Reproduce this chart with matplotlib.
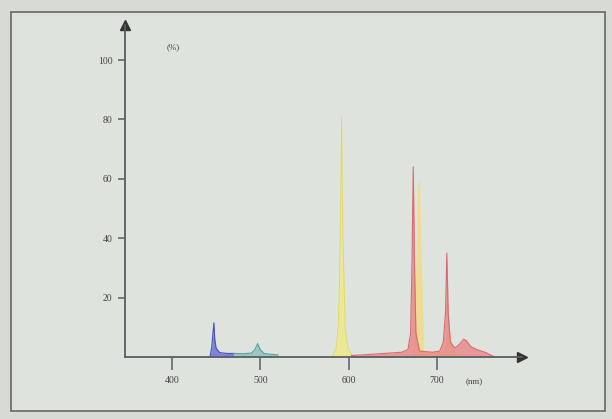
import matplotlib.pyplot as plt
from matplotlib.patches import Rectangle

# Spectrum bands (wavelength nm, relative intensity %)
blue_wl = [443, 445, 446.5, 447.5, 448.5, 450, 454, 462, 470]
blue_val = [0, 3, 8, 11.5, 6, 3, 1.5, 1.2, 1.2]

teal_wl = [470, 480, 490, 494, 497, 500, 504, 512, 520]
teal_val = [1.2, 1.1, 1.3, 2.5, 4.5, 2.5, 1.2, 0.9, 0.7]

yellow_wl = [582, 586, 588.5, 590.5, 592, 593.5, 596, 599, 604]
yellow_val = [0.5, 3, 12, 40, 81, 40, 10, 3, 0.5]

orange_wl = [673, 676, 678, 680, 682, 685, 708, 712, 715, 718, 722]
orange_val = [2, 30, 58, 60, 35, 2, 2, 10, 8, 3, 1]

red_wl = [603, 620, 640, 660, 667, 670, 671.5, 673, 674.5, 676, 680,
          695, 703, 707, 709.5, 711, 712.5, 715, 720, 726, 730, 733,
          738, 745, 755, 765]
red_val = [0.5, 0.8, 1.2, 1.6, 2.5, 8, 30, 64, 30, 8, 2,
           1.6, 2, 5, 15, 35, 15, 5, 3, 4.5, 6, 5.5,
           3.5, 2.5, 1.5, 0]

xticks = [400, 500, 600, 700]
yticks = [20, 40, 60, 80, 100]

plt.rcParams['font.family'] = ['Liberation Serif', 'DejaVu Serif']

fig = plt.figure(figsize=(6.12, 4.19), dpi=100, facecolor='#d8dbd5')
W, H = 612, 419

# photo frame
frame = Rectangle((11 / W, 1 - 411 / H), 594 / W, 399 / H,
                  transform=fig.transFigure, facecolor='#dfe3dd',
                  edgecolor='#6e716f', linewidth=1.3, zorder=-10)
fig.patches.append(frame)

ax = fig.add_axes([125 / W, 1 - 357 / H, 397 / W, 332 / H])
ax.set_facecolor('none')
ax.set_xlim(347, 796)
ax.set_ylim(0, 111.8)

ax.fill_between(blue_wl, blue_val, color='#6b74d6', alpha=0.85, lw=0)
ax.plot(blue_wl, blue_val, color='#4a52b8', lw=0.8)
ax.fill_between(teal_wl, teal_val, color='#8cc2c0', alpha=0.85, lw=0)
ax.plot(teal_wl, teal_val, color='#5aa09a', lw=0.8)
ax.fill_between(yellow_wl, yellow_val, color='#ecea8a', alpha=0.9, lw=0)
ax.plot(yellow_wl, yellow_val, color='#dcd870', lw=0.6)
ax.fill_between(orange_wl, orange_val, color='#f0dc8a', alpha=0.9, lw=0)
ax.fill_between(red_wl, red_val, color='#e88a8a', alpha=0.85, lw=0)
ax.plot(red_wl, red_val, color='#d86a70', lw=0.8)

for s in ['top', 'right']:
    ax.spines[s].set_visible(False)
for s in ['left', 'bottom']:
    ax.spines[s].set_color('#5a5d62')
    ax.spines[s].set_linewidth(1.3)

# axis arrows
ax.plot(1, 0, '>', color='#333', ms=7, transform=ax.transAxes, clip_on=False)
ax.plot(0, 1, '^', color='#333', ms=7, transform=ax.transAxes, clip_on=False)

ax.set_xticks(xticks)
ax.set_xticklabels([str(t) for t in xticks])
ax.set_yticks(yticks)
ax.set_yticklabels([str(t) for t in yticks])
ax.tick_params(axis='x', direction='out', length=9, width=1.1, color='#5a5d62',
               labelsize=7, labelcolor='#444', pad=5)
ax.tick_params(axis='y', direction='out', length=5, width=1.1, color='#5a5d62',
               labelsize=7, labelcolor='#444', pad=4)

fig.text(173 / W, 1 - 47 / H, '(%)', fontsize=6.5, color='#444',
         ha='center', va='center')
fig.text(474 / W, 1 - 382 / H, '(nm)', fontsize=6.5, color='#444',
         ha='center', va='center')

fig.savefig('out.png', dpi=100, facecolor=fig.get_facecolor())
